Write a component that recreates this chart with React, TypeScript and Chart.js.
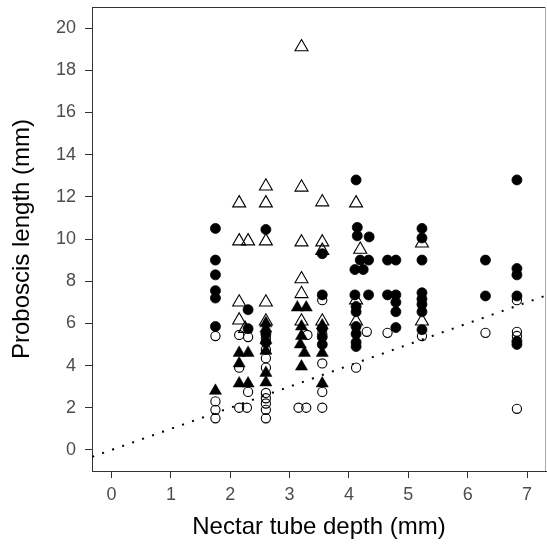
import React, { useEffect, useRef } from "react";
import { Chart, registerables } from "chart.js";

Chart.register(...registerables);

// [nectar tube depth (mm), proboscis length (mm)]
const filledCircles: [number, number][] = [
  [1.75, 10.5], [1.75, 9.0], [1.75, 8.3], [1.75, 7.55], [1.75, 7.2], [1.75, 5.85],
  [2.3, 6.65], [2.3, 5.75],
  [2.6, 10.45], [2.6, 5.5], [2.6, 5.1],
  [3.55, 9.3], [3.55, 7.35], [3.55, 5.75], [3.55, 5.35], [3.55, 5.0],
  [4.12, 12.8], [4.14, 10.55], [4.14, 10.15], [4.19, 9.0], [4.1, 8.55], [4.1, 7.35], [4.12, 6.8], [4.12, 6.55],
  [4.12, 5.85], [4.12, 5.5], [4.12, 5.1], [4.12, 4.9],
  [4.34, 10.1], [4.33, 9.0], [4.24, 8.55], [4.33, 7.35],
  [4.65, 9.0], [4.65, 7.35],
  [4.79, 9.0], [4.79, 7.35], [4.79, 7.0], [4.79, 6.55], [4.79, 5.8],
  [5.23, 10.5], [5.23, 10.05], [5.23, 9.0], [5.23, 7.45], [5.23, 7.15], [5.23, 6.9], [5.23, 6.55], [5.23, 5.7],
  [6.3, 9.0], [6.3, 7.3],
  [6.83, 12.8], [6.83, 8.6], [6.83, 8.3], [6.83, 7.3], [6.83, 5.15], [6.83, 5.0],
];

const openCircles: [number, number][] = [
  [1.75, 5.4], [1.75, 2.3], [1.75, 1.9], [1.75, 1.5],
  [2.15, 5.45], [2.3, 5.35], [2.15, 3.9], [2.3, 2.75], [2.15, 2.0], [2.28, 2.0],
  [2.6, 5.3], [2.6, 4.75], [2.6, 4.35], [2.6, 3.9], [2.6, 2.7], [2.6, 2.45], [2.6, 2.2], [2.6, 1.9], [2.6, 1.5],
  [3.3, 5.45], [3.15, 2.0], [3.28, 2.0],
  [3.55, 7.1], [3.55, 5.5], [3.55, 4.1], [3.55, 2.75], [3.55, 2.0],
  [4.3, 5.6], [4.12, 3.9],
  [4.65, 5.55],
  [5.23, 5.4],
  [6.3, 5.55],
  [6.83, 7.1], [6.83, 5.6], [6.83, 5.4], [6.83, 1.95],
];

const filledTriangles: [number, number][] = [
  [1.75, 2.8],
  [2.15, 4.6], [2.3, 4.6], [2.15, 4.1], [2.15, 3.15], [2.3, 3.15],
  [2.6, 6.0], [2.6, 5.75], [2.6, 5.2], [2.6, 4.7], [2.6, 3.65], [2.6, 3.2],
  [3.13, 6.75], [3.28, 6.75], [3.2, 5.85], [3.2, 5.4], [3.18, 5.0], [3.25, 4.6], [3.2, 3.95],
  [3.55, 5.9], [3.55, 4.6], [3.55, 3.15],
];

const openTriangles: [number, number][] = [
  [2.15, 11.7], [2.15, 9.9], [2.3, 9.9], [2.15, 7.0], [2.15, 6.15], [2.25, 5.75],
  [2.6, 12.5], [2.6, 11.7], [2.6, 9.9], [2.6, 7.0], [2.6, 6.1],
  [3.2, 19.1], [3.2, 12.45], [3.2, 9.85], [3.2, 8.1], [3.2, 7.4], [3.2, 6.1],
  [3.55, 11.75], [3.55, 9.85], [3.55, 9.45], [3.55, 6.1],
  [4.12, 11.7], [4.19, 9.5], [4.12, 7.1], [4.12, 6.1],
  [5.23, 9.8], [5.23, 6.1],
];

// 1:1 reference line (y = x)
const oneToOne: [number, number][] = [[-1, -1], [8, 8]];

const xTicks = [0, 1, 2, 3, 4, 5, 6, 7];
const yTicks = [0, 2, 4, 6, 8, 10, 12, 14, 16, 18, 20];
const xRange = [-0.33, 7.32];
const yRange = [-1, 21];

const toPts = (a: [number, number][]) => a.map(([x, y]) => ({ x, y }));

const FONT = "'Liberation Sans', Arial, sans-serif";

export default function App() {
  const ref = useRef<HTMLCanvasElement | null>(null);

  useEffect(() => {
    if (!ref.current) return;
    const frame = {
      id: "frame",
      afterDraw(chart: any) {
        const { ctx, chartArea: a } = chart;
        ctx.save();
        ctx.lineWidth = 1;
        ctx.strokeStyle = "#333333";
        ctx.beginPath();
        ctx.moveTo(a.left, Math.round(a.top) + 0.5);
        ctx.lineTo(a.right, Math.round(a.top) + 0.5);
        ctx.stroke();
        ctx.strokeStyle = "#aaaaaa";
        ctx.beginPath();
        ctx.moveTo(Math.round(a.right) - 0.5, a.top);
        ctx.lineTo(Math.round(a.right) - 0.5, a.bottom);
        ctx.stroke();
        ctx.restore();
      },
    };
    const noPad = (s: any) => {
      s.paddingTop = 0;
      s.paddingBottom = 0;
      s.paddingLeft = 0;
      s.paddingRight = 0;
    };
    const chart = new Chart(ref.current, {
      type: "scatter",
      data: {
        datasets: [
          {
            label: "open circles",
            data: toPts(openCircles),
            pointStyle: "circle",
            pointRadius: 4.6,
            pointBorderWidth: 1.1,
            pointBackgroundColor: "rgba(255,255,255,0)",
            pointBorderColor: "#000",
          },
          {
            label: "filled circles",
            data: toPts(filledCircles),
            pointStyle: "circle",
            pointRadius: 5,
            pointBorderWidth: 0.8,
            pointBackgroundColor: "#000",
            pointBorderColor: "#000",
          },
          {
            label: "filled triangles",
            data: toPts(filledTriangles),
            pointStyle: "triangle",
            pointRadius: 7,
            pointBorderWidth: 0.5,
            pointBackgroundColor: "#000",
            pointBorderColor: "#000",
          },
          {
            label: "open triangles",
            data: toPts(openTriangles),
            pointStyle: "triangle",
            pointRadius: 7.5,
            pointBorderWidth: 1.1,
            pointBackgroundColor: "rgba(255,255,255,0)",
            pointBorderColor: "#000",
          },
          {
            type: "line",
            label: "1:1",
            data: toPts(oneToOne),
            borderColor: "#000",
            borderWidth: 2,
            borderDash: [2, 8.6],
            pointRadius: 0,
            fill: false,
          } as any,
        ],
      },
      options: {
        responsive: false,
        animation: false,
        devicePixelRatio: 1,
        layout: { autoPadding: false, padding: { top: 7, right: 1, left: 0, bottom: 0 } },
        plugins: { legend: { display: false }, tooltip: { enabled: false } },
        scales: {
          x: {
            type: "linear",
            min: xRange[0],
            max: xRange[1],
            afterBuildTicks: (s: any) => {
              s.ticks = xTicks.map((v) => ({ value: v }));
            },
            afterFit: (s: any) => {
              s.height = 74;
              noPad(s);
            },
            grid: { display: true, drawOnChartArea: false, drawTicks: true, tickLength: 7, color: "#333333" },
            border: { display: true, color: "#333333", width: 1 },
            ticks: { color: "#4D4D4D", font: { family: FONT, size: 18 }, padding: 6, maxRotation: 0 },
            title: {
              display: true,
              text: "Nectar tube depth (mm)",
              color: "#000",
              font: { family: FONT, size: 24 },
              padding: { top: 0, bottom: 3 },
            },
          },
          y: {
            type: "linear",
            min: yRange[0],
            max: yRange[1],
            afterBuildTicks: (s: any) => {
              s.ticks = yTicks.map((v) => ({ value: v }));
            },
            afterFit: (s: any) => {
              s.width = 92;
              noPad(s);
            },
            grid: { display: true, drawOnChartArea: false, drawTicks: true, tickLength: 7, color: "#333333" },
            border: { display: true, color: "#333333", width: 1 },
            ticks: { color: "#4D4D4D", font: { family: FONT, size: 18 }, padding: 9 },
            title: {
              display: true,
              text: "Proboscis length (mm)",
              color: "#000",
              font: { family: FONT, size: 24 },
              padding: { top: 8, bottom: 0 },
            },
          },
        },
      },
      plugins: [frame],
    } as any);
    return () => chart.destroy();
  }, []);

  return (
    <div style={{ position: "absolute", left: 0, top: 0, width: 547, height: 545, background: "#fff" }}>
      <canvas ref={ref} width={547} height={545} style={{ display: "block" }} />
    </div>
  );
}
